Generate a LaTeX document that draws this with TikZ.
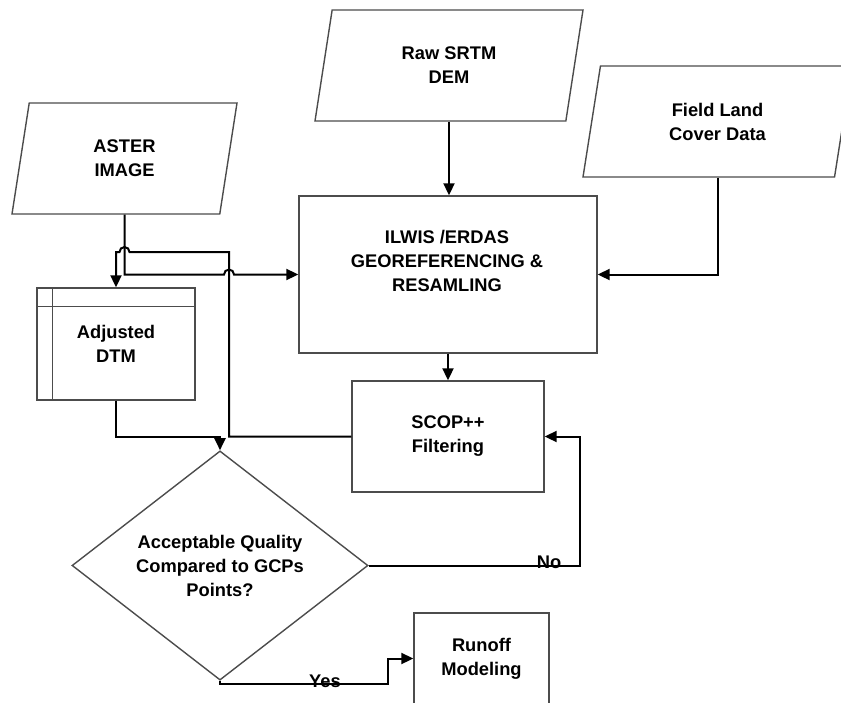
\documentclass[tikz,border=0pt]{standalone}
\usepackage{fontspec}
\setmainfont{Liberation Sans}
\usepackage{xcolor}
\usetikzlibrary{arrows.meta, positioning, calc, shapes.geometric}
\definecolor{boxgray}{rgb}{0.3, 0.3, 0.3}

\begin{document}
\begin{tikzpicture}[x=1pt, y=-1pt, >={Triangle[length=12pt, width=11pt]},
    font=\fontsize{18.3}{24}\selectfont\bfseries,
    flow/.style={line width=2pt, black},
    shapeline/.style={draw=boxgray, line width=1.4pt},
    databox/.style={shapeline, trapezium, trapezium left angle=65, trapezium right angle=115,
        trapezium stretches body, inner sep=0pt, align=center, minimum height=111pt},
    procbox/.style={shapeline, rectangle, inner sep=0pt, align=center},
    decision/.style={shapeline, diamond, inner sep=0pt, align=center}]
    \useasboundingbox (0,0) rectangle (841,702);
    \clip (0,0) rectangle (841,702);

    % Input data
    \node[databox, minimum width=225pt] (aster) at (124.5,158.5) {ASTER\\IMAGE};
    \node[databox, minimum width=268pt] (srtm) at (449,65.5) {Raw SRTM\\DEM};
    \node[databox, minimum width=269pt] (field) at (717.5,121.5) {Field Land\\Cover Data};

    % Processing
    \node[procbox, minimum width=298pt, minimum height=157pt] (ilwis) at (448,274.5) {};
    \node[align=center] (ilwistxt) at (447,261) {ILWIS /ERDAS\\GEOREFERENCING \&\\RESAMLING};
    \node[procbox, minimum width=192pt, minimum height=111pt] (scop) at (448,436.5) {SCOP++\\Filtering};

    % Adjusted DTM (stored data)
    \node[procbox, minimum width=158pt, minimum height=112pt] (dtm) at (116,344) {Adjusted\\DTM};
    \draw[shapeline] ($(dtm.north west)+(0,19)$) -- ($(dtm.north east)+(0,19)$);
    \draw[shapeline] ($(dtm.north west)+(16,0)$) -- ($(dtm.south west)+(16,0)$);

    % Decision and output
    \node[decision, minimum width=296pt, minimum height=195pt] (check) at (220,565.5)
        {Acceptable Quality\\Compared to GCPs\\Points?};
    \node[procbox, minimum width=135pt, minimum height=91pt] (runoff) at (481.5,658.5) {Runoff\\Modeling};

    % Bends
    \coordinate (bend) at (229,252);
    \coordinate (yturn) at (388,684);

    % Inputs into ILWIS
    \draw[flow, ->] (srtm.center |- srtm.bottom side) -- (srtm.center |- ilwis.north);
    \draw[flow, ->] (field.center |- field.bottom side) |- (ilwis.east);
    \draw[flow, ->] (aster.center |- aster.bottom side) |- ($(bend |- ilwis.west)+(-5,0)$)
        arc[start angle=180, end angle=360, radius=5] -- (ilwis.west);
    \draw[flow, ->] (ilwis.south) -- (scop.north);

    % SCOP++ back to DTM
    \draw[flow, ->] (scop.west) -| (bend) -- ($(aster.center |- bend)+(5,0)$)
        arc[start angle=0, end angle=-180, radius=5] -- (dtm.north |- bend) -- (dtm.north);
    \draw[flow, ->] (dtm.south) |- (check.north |- scop.west) -- (check.north);

    % No / Yes
    \draw[flow, ->] (check.east) -- ++(211,0) |- (scop.east);
    \node (nolbl) at (549,562) {No};
    \draw[flow, ->] (check.south) |- (yturn) |- (runoff.west);
    \node (yeslbl) at (325,681) {Yes};
\end{tikzpicture}
\end{document}
